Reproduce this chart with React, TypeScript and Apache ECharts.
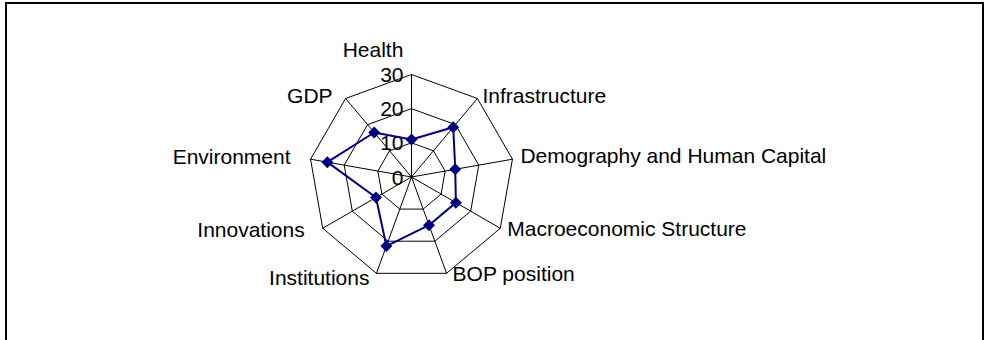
import React, { useEffect, useRef } from "react";
import * as echarts from "echarts";

// Categories listed clockwise starting from the top axis
const categories = [
  "Health",
  "Infrastructure",
  "Demography and Human Capital",
  "Macroeconomic Structure",
  "BOP position",
  "Institutions",
  "Innovations",
  "Environment",
  "GDP",
];
const values = [11, 19, 13, 15, 15, 21.5, 12, 25, 17];
const axisMax = 30;
const tickLabels = ["0", "10", "20", "30"];

// label padding [top, right, bottom, left] per category (layout only)
const namePadding: Record<string, number[]> = {
  Health: [0, 77, 15, 0],
  Infrastructure: [0, 0, 6, 5],
  "Demography and Human Capital": [0, 0, 8, 8],
  "Macroeconomic Structure": [1, 0, 0, 7],
  "BOP position": [0, 0, 0, 6],
  Institutions: [9, 7, 0, 0],
  Innovations: [2, 18, 0, 0],
  Environment: [0, 20, 6, 0],
  GDP: [0, 13, 6, 0],
};

export default function App() {
  const ref = useRef<HTMLDivElement>(null);
  useEffect(() => {
    if (!ref.current) return;
    const chart = echarts.init(ref.current, undefined, { renderer: "svg" });
    const font = "'Liberation Sans', Arial, sans-serif";
    // ECharts lays radar indicators counter-clockwise; reverse all but the first
    const order = [0, ...categories.slice(1).map((_, i) => categories.length - 1 - i)];
    const rich: Record<string, any> = {};
    order.forEach((idx, k) => {
      rich["n" + k] = {
        fontSize: 21,
        fontFamily: font,
        color: "#000",
        padding: namePadding[categories[idx]],
      };
    });
    chart.setOption({
      animation: false,
      backgroundColor: "#ffffff",
      graphic: [
        {
          type: "rect",
          shape: { x: 6, y: 3, width: 977, height: 400 },
          style: { fill: "none", stroke: "#000", lineWidth: 2 },
          silent: true,
        },
      ],
      radar: {
        center: [411.5, 177],
        radius: 102.5,
        startAngle: 90,
        shape: "polygon",
        splitNumber: 3,
        axisNameGap: 0,
        indicator: order.map((idx, k) => ({
          name: categories[idx],
          min: 0,
          max: axisMax,
          ...(k === 0
            ? {
                axisLabel: {
                  show: true,
                  formatter: (v: number) => tickLabels[Math.round(v / 10)] ?? String(v),
                },
              }
            : {}),
        })),
        axisName: {
          color: "#000",
          fontSize: 21,
          fontFamily: font,
          formatter: (name: string) => {
            const k = order.findIndex((idx) => categories[idx] === name);
            return "{n" + k + "|" + name + "}";
          },
          rich,
        },
        axisLabel: {
          show: false,
          color: "#000",
          fontSize: 21,
          fontFamily: font,
          margin: 8,
        },
        axisLine: { lineStyle: { color: "#000", width: 1 } },
        splitLine: { lineStyle: { color: "#000", width: 1 } },
        splitArea: { show: false },
        axisTick: { show: false },
      },
      series: [
        {
          type: "radar",
          symbol: "diamond",
          symbolSize: 12,
          lineStyle: { color: "#000080", width: 2 },
          itemStyle: { color: "#000080" },
          data: [{ value: order.map((idx) => values[idx]), name: "Series" }],
        },
      ],
    });
    return () => chart.dispose();
  }, []);
  return (
    <div
      ref={ref}
      style={{ position: "fixed", left: 0, top: 0, width: 984, height: 340 }}
    />
  );
}
